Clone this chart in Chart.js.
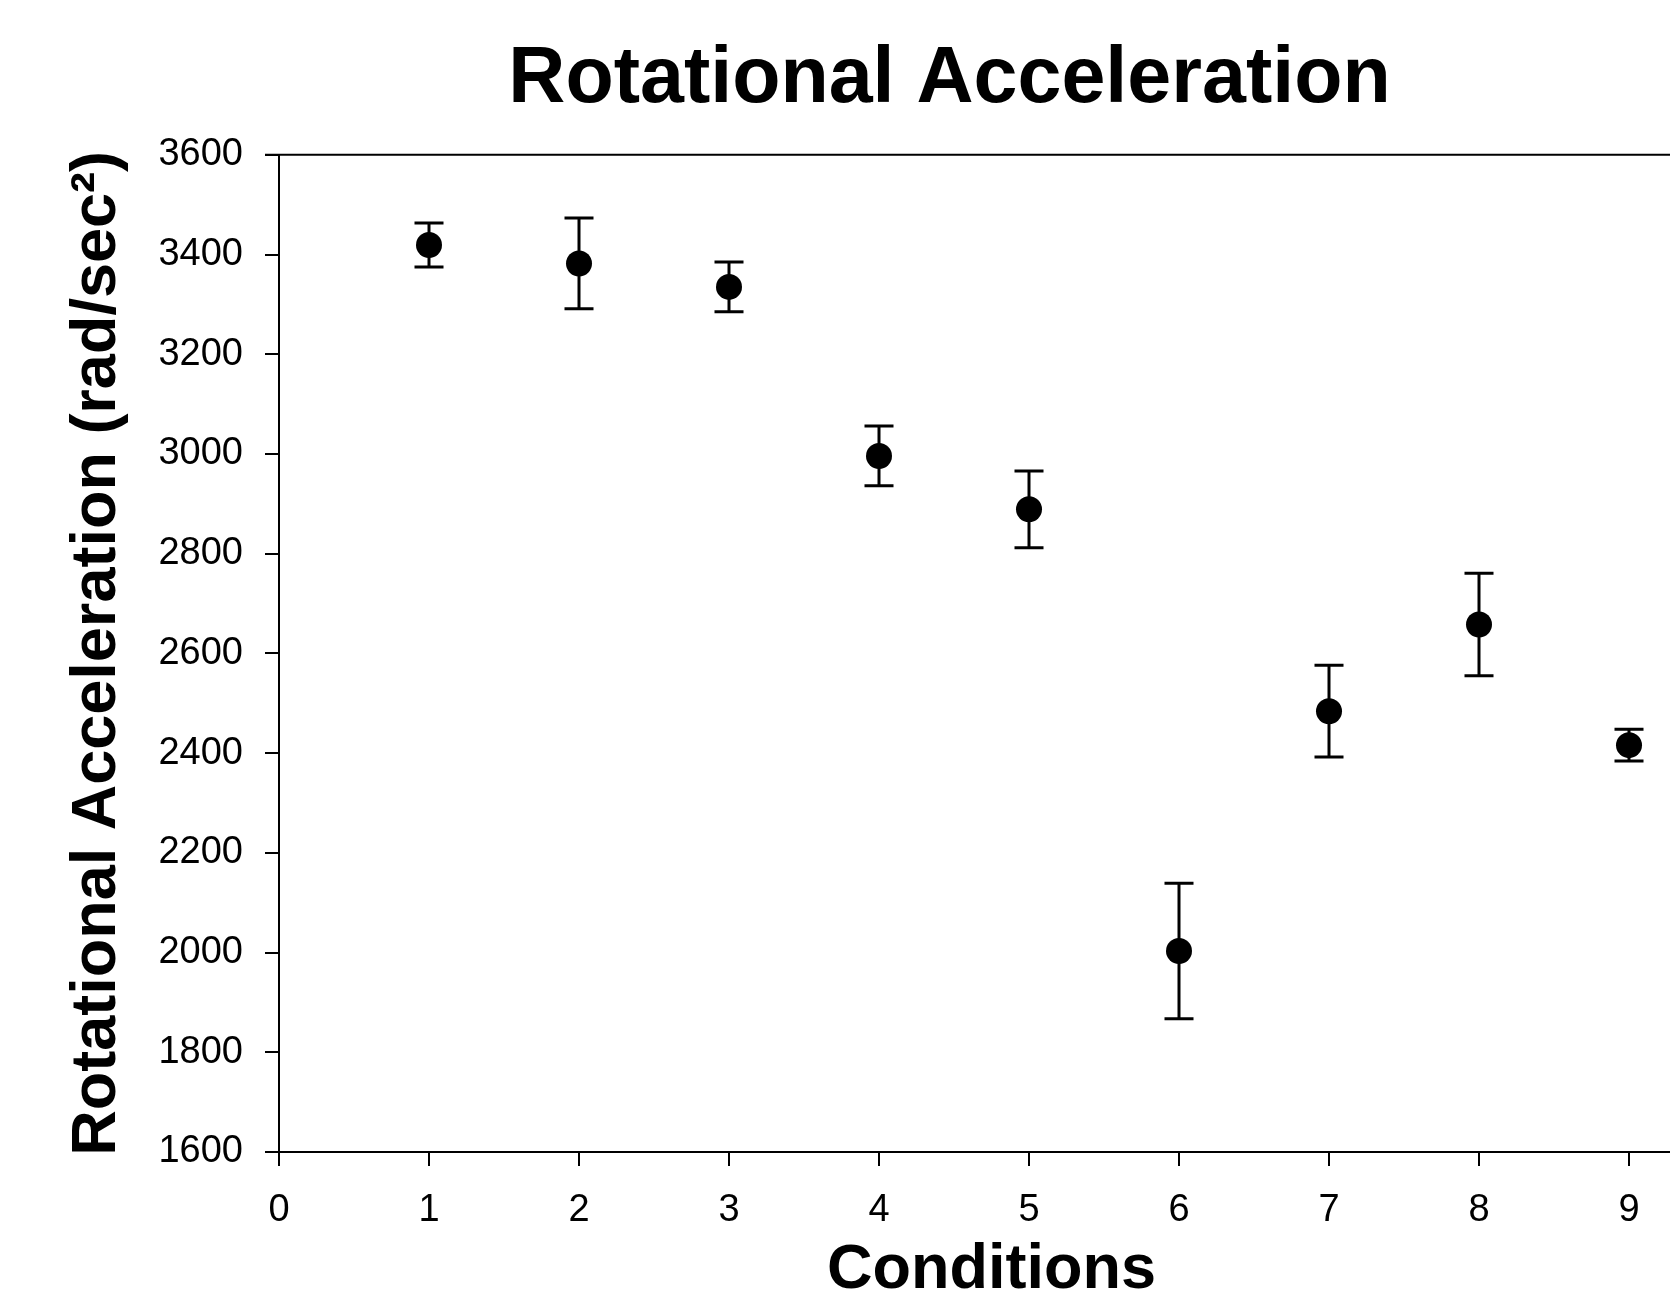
<!DOCTYPE html>
<html>
<head>
<meta charset="utf-8">
<script src="https://cdn.jsdelivr.net/npm/chart.js@4.4.1/dist/chart.umd.min.js"></script>
<style>
  html, body { margin: 0; padding: 0; background: #ffffff; overflow: hidden; }
  #wrap { width: 1670px; height: 1308px; overflow: hidden; }
  canvas { display: block; }
</style>
</head>
<body>
<div id="wrap"><canvas id="c" width="1899" height="1308"></canvas></div>
<script>
// ---- data ----
const conditions = [1, 2, 3, 4, 5, 6, 7, 8, 9];
const meanAccel  = [3419, 3382, 3335, 2996, 2889, 2003, 2484, 2658, 2416];
const errAccel   = [44, 91, 50, 60, 77, 136, 92, 103, 32];

const chartTitle = 'Rotational Acceleration';
const xTitle = 'Conditions';
const yTitle = 'Rotational Acceleration (rad/sec\u00B2)';

const FONT = '"Liberation Sans", Arial, Helvetica, sans-serif';

const points = conditions.map((c, i) => ({ x: c, y: meanAccel[i] }));

const errorBarPlugin = {
  id: 'errorBars',
  beforeDatasetsDraw(chart) {
    const ctx = chart.ctx;
    const xs = chart.scales.x, ys = chart.scales.y;
    ctx.save();
    ctx.strokeStyle = '#000';
    ctx.lineWidth = 3;
    const cap = 14.5;
    conditions.forEach((c, i) => {
      const px = xs.getPixelForValue(c);
      const top = ys.getPixelForValue(meanAccel[i] + errAccel[i]);
      const bot = ys.getPixelForValue(meanAccel[i] - errAccel[i]);
      ctx.beginPath();
      ctx.moveTo(px, top); ctx.lineTo(px, bot);
      ctx.moveTo(px - cap, top); ctx.lineTo(px + cap, top);
      ctx.moveTo(px - cap, bot); ctx.lineTo(px + cap, bot);
      ctx.stroke();
    });
    ctx.restore();
  }
};

const framePlugin = {
  id: 'frame',
  afterDraw(chart) {
    const a = chart.chartArea, ctx = chart.ctx;
    ctx.save();
    ctx.strokeStyle = '#000';
    ctx.lineWidth = 2;
    ctx.beginPath();
    ctx.moveTo(a.left - 14, a.top);
    ctx.lineTo(a.right, a.top);
    ctx.lineTo(a.right, a.bottom);
    ctx.stroke();
    ctx.restore();
  }
};

new Chart(document.getElementById('c'), {
  type: 'scatter',
  data: {
    datasets: [{
      data: points,
      backgroundColor: '#000',
      borderColor: '#000',
      pointRadius: 13,
      pointHoverRadius: 13,
      borderWidth: 0
    }]
  },
  options: {
    responsive: false,
    animation: false,
    layout: { padding: 0 },
    plugins: {
      legend: { display: false },
      tooltip: { enabled: false },
      title: {
        display: true,
        text: chartTitle,
        color: '#000',
        font: { family: FONT, size: 79, weight: 'bold', lineHeight: 1.2 },
        padding: { top: 33, bottom: 27 }
      }
    },
    scales: {
      x: {
        type: 'linear',
        position: 'bottom',
        min: 0,
        max: 9.5,
        border: { display: true, color: '#000', width: 2 },
        grid: { display: true, drawOnChartArea: false, drawTicks: true, tickLength: 14, tickColor: '#000', lineWidth: 2 },
        ticks: {
          stepSize: 1,
          includeBounds: false,
          color: '#000',
          padding: 22,
          font: { family: FONT, size: 38 },
          callback: v => Number.isInteger(v) ? String(v) : ''
        },
        title: {
          display: true,
          text: xTitle,
          color: '#000',
          font: { family: FONT, size: 63, weight: 'bold', lineHeight: 1.2 },
          padding: { top: 0, bottom: 0 }
        },
        afterFit: s => { s.height = 156; }
      },
      y: {
        type: 'linear',
        position: 'left',
        min: 1600,
        max: 3600,
        border: { display: true, color: '#000', width: 2 },
        grid: { display: true, drawOnChartArea: false, drawTicks: true, tickLength: 14, tickColor: '#000', lineWidth: 2 },
        ticks: {
          stepSize: 200,
          color: '#000',
          padding: 22,
          font: { family: FONT, size: 38 },
          callback: v => String(v)
        },
        title: {
          display: true,
          text: yTitle,
          color: '#000',
          font: { family: FONT, size: 63, weight: 'bold', lineHeight: 1.2 },
          padding: { top: 60, bottom: 0 }
        },
        afterFit: s => { s.width = 279; }
      },
      yRight: {
        type: 'linear',
        position: 'right',
        display: true,
        border: { display: false },
        grid: { display: false, drawTicks: false },
        ticks: { display: false },
        afterFit: s => { s.width = 195; }
      }
    }
  },
  plugins: [errorBarPlugin, framePlugin]
});
</script>
</body>
</html>
